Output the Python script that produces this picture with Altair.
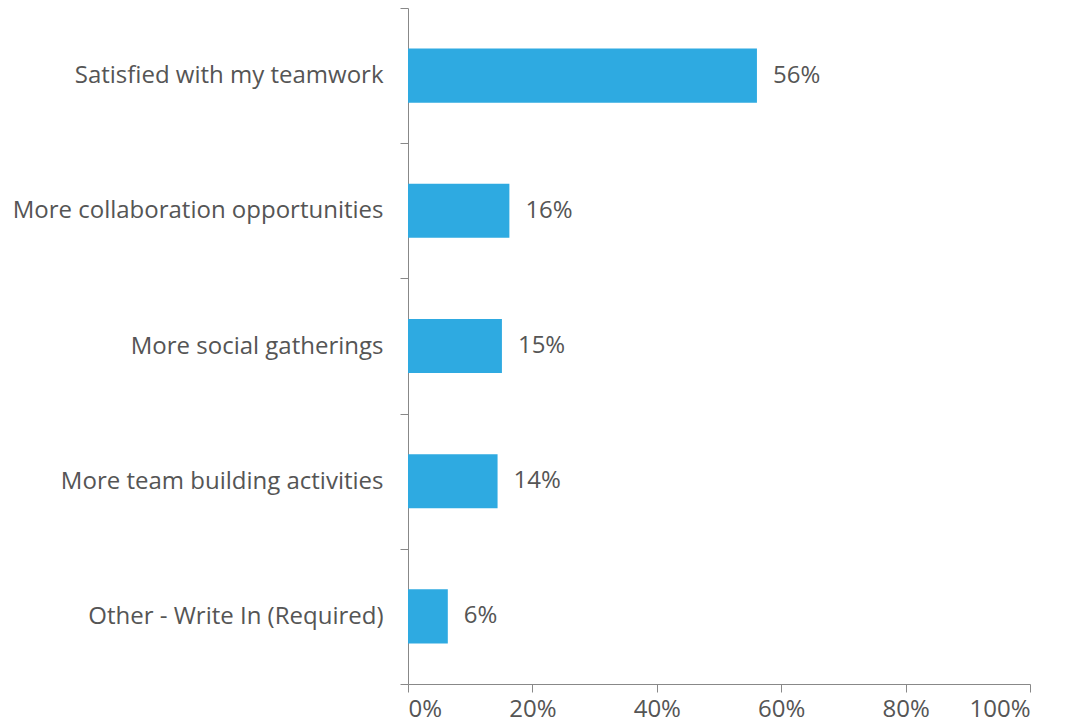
import altair as alt
import pandas as pd

categories = [
    "Satisfied with my teamwork",
    "More collaboration opportunities",
    "More social gatherings",
    "More team building activities",
    "Other - Write In (Required)",
]
values = [56.1, 16.3, 15.1, 14.4, 6.4]
x_ticks = [0, 20, 40, 60, 80, 100]

df = pd.DataFrame({"category": categories, "value": values})

FONT = "Open Sans"
FS = 24
TEXT_COLOR = "#555555"
AXIS_COLOR = "#888888"

y_enc = alt.Y(
    "category:N",
    sort=categories,
    scale=alt.Scale(paddingInner=0, paddingOuter=0),
    axis=alt.Axis(
        title=None,
        tickBand="extent",
        tickSize=8,
        labelPadding=17,
        labelFont=FONT,
        labelFontSize=FS,
        labelColor=TEXT_COLOR,
        domainColor=AXIS_COLOR,
        tickColor=AXIS_COLOR,
        labelLimit=500,
    ),
)

x_enc = alt.X(
    "value:Q",
    scale=alt.Scale(domain=[0, 100], nice=False),
    axis=alt.Axis(
        title=None,
        values=x_ticks,
        labelExpr="datum.value + '%'",
        grid=False,
        tickSize=8,
        labelPadding=5,
        labelFont=FONT,
        labelFontSize=FS,
        labelColor=TEXT_COLOR,
        domainColor=AXIS_COLOR,
        tickColor=AXIS_COLOR,
    ),
)

bars = alt.Chart(df).mark_bar(
    color="#2eaae1", height=alt.RelativeBandSize(0.4)
).encode(x=x_enc, y=y_enc)

labels = alt.Chart(df).mark_text(
    align="left", baseline="middle", dx=16, font=FONT, fontSize=FS, color=TEXT_COLOR
).transform_calculate(
    lbl="format(datum.value, '.0f') + '%'"
).encode(
    x="value:Q",
    y=alt.Y("category:N", sort=categories),
    text="lbl:N",
)

chart = (
    alt.layer(bars, labels)
    .properties(
        width=622,
        height=676,
        autosize=alt.AutoSizeParams(type="none"),
        padding={"left": 400, "top": 0, "right": 26, "bottom": 35},
    )
    .configure_view(stroke=None)
)

chart.save("out.html", embed_options={"renderer": "svg", "actions": False})
